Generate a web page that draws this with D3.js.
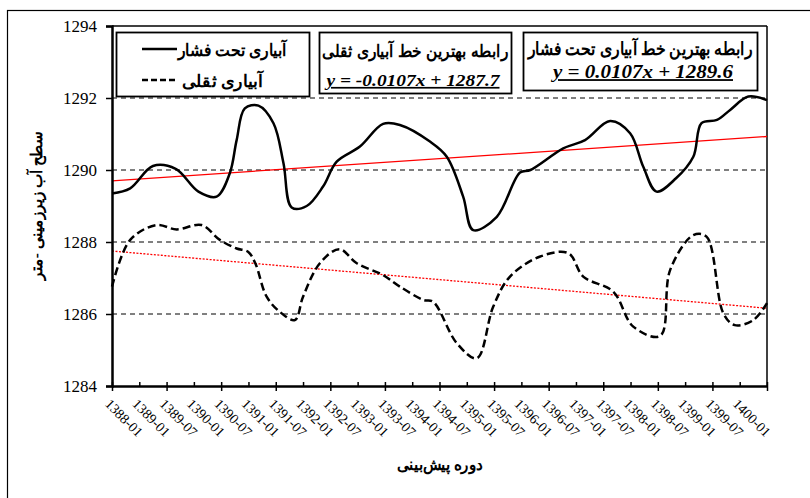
<!DOCTYPE html>
<html>
<head>
<meta charset="utf-8">
<script src="https://cdn.jsdelivr.net/npm/d3@7"></script>
<style>
html,body{margin:0;padding:0;background:#fff;}
svg{display:block;}
</style>
</head>
<body>
<svg id="chart" width="810" height="498"></svg>
<script>
// ---- data (x = month index from 1388-01, 6 months per tick) ----
const xTickLabels = ["1388-01","1389-01","1389-07","1390-01","1390-07","1391-01","1391-07","1392-01","1392-07","1393-01","1393-07","1394-01","1394-07","1395-01","1395-07","1396-01","1396-07","1397-01","1397-07","1398-01","1398-07","1399-01","1399-07","1400-01"];
const yTicks = [1284,1286,1288,1290,1292,1294];

const pressureX = [0,4,9,14,19,23,25.9,27.4,29.2,32.2,35.5,37.7,39.5,42.8,46.4,49.4,54.5,59.6,63.3,69.9,73.6,77.2,79.4,84.6,89.7,92,99.2,104,109.5,113.9,116.8,119.7,124,127.8,129.6,133,135.9,139.9,144];
const pressureY = [1289.35,1289.49,1290.11,1290.03,1289.40,1289.26,1289.91,1290.83,1291.71,1291.79,1291.30,1290.19,1288.96,1289.00,1289.54,1290.23,1290.65,1291.28,1291.25,1290.79,1290.37,1289.26,1288.33,1288.70,1289.93,1290.00,1290.60,1290.83,1291.36,1291.02,1290.09,1289.40,1289.77,1290.37,1291.30,1291.39,1291.67,1292.04,1291.94];

const gravityX = [0,4,9.8,14.2,19.7,23.7,27.4,29.9,31.5,34,36.9,40.2,42,45.7,50,53.8,59.6,63.3,68.5,70.6,75.8,80.2,83.8,87.5,94,100.3,103.6,110.2,114.6,120.5,122.7,127.8,130.7,134.4,136.9,141,144];
const gravityY = [1286.76,1288.06,1288.47,1288.35,1288.47,1288.06,1287.82,1287.73,1287.41,1286.48,1286.06,1285.83,1286.48,1287.41,1287.80,1287.41,1287.08,1286.76,1286.39,1286.34,1285.19,1284.77,1286.20,1287.04,1287.59,1287.69,1287.04,1286.62,1285.65,1285.39,1287.22,1288.19,1288.15,1286.02,1285.69,1285.83,1286.30];

const trendX = [0,144];
const pressureTrend = [1289.70,1290.93];
const gravityTrend = [1287.75,1286.16];

const legendLabels = ["آبیاری تحت فشار","آبیاری ثقلی"];
const eqGravityTitle = "رابطه بهترین خط آبیاری ثقلی";
const eqGravity = "y = -0.0107x + 1287.7";
const eqPressureTitle = "رابطه بهترین خط آبیاری تحت فشار";
const eqPressure = "y = 0.0107x + 1289.6";
const yTitle = "سطح آب زیرزمینی -متر";
const xTitle = "دوره پیش‌بینی";

// ---- layout ----
const svg = d3.select("#chart");
const L = 112, R = 767, T = 26, B = 386;
const SERIF = '"Liberation Serif"';
const ARAB = 'serif';

const x = d3.scaleLinear().domain([0,144]).range([L,R]);
const y = d3.scaleLinear().domain([1284,1294]).range([B,T]);

// outer frame
svg.append("rect").attr("x",7.5).attr("y",10.5).attr("width",812).attr("height",500)
  .attr("fill","none").attr("stroke","#000").attr("stroke-width",1.2);

// gridlines
svg.append("g").selectAll("line").data(yTicks.filter(v=>v>1284 && v<1294)).join("line")
  .attr("x1",L).attr("x2",R).attr("y1",d=>y(d)).attr("y2",d=>y(d))
  .attr("stroke","#000").attr("stroke-width",1).attr("stroke-dasharray","5,4");

// plot frame top/right
svg.append("line").attr("x1",L).attr("x2",R).attr("y1",T).attr("y2",T).attr("stroke","#000").attr("stroke-width",1.5);
svg.append("line").attr("x1",R).attr("x2",R).attr("y1",T).attr("y2",B).attr("stroke","#000").attr("stroke-width",1.5);

// trend lines
const tl = d3.line().x((d,i)=>x(trendX[i])).y(d=>y(d));
svg.append("path").attr("d",tl(pressureTrend)).attr("fill","none").attr("stroke","#ff0000").attr("stroke-width",1.3);
svg.append("path").attr("d",tl(gravityTrend)).attr("fill","none").attr("stroke","#ff0000").attr("stroke-width",1.3).attr("stroke-dasharray","2,1.5");

// series
const line = d3.line().curve(d3.curveCatmullRom.alpha(0.5));
svg.append("path").attr("d",line(pressureX.map((v,i)=>[x(v),y(pressureY[i])])))
  .attr("fill","none").attr("stroke","#000").attr("stroke-width",2.5);
svg.append("path").attr("d",line(gravityX.map((v,i)=>[x(v),y(gravityY[i])])))
  .attr("fill","none").attr("stroke","#000").attr("stroke-width",2.5).attr("stroke-dasharray","8,4");

// y axis
const yAxis = svg.append("g").attr("transform",`translate(${L},0)`)
  .call(d3.axisLeft(y).tickValues(yTicks).tickSize(6).tickPadding(9).tickFormat(d3.format("d")));
yAxis.attr("font-family",null).attr("font-size",null);
yAxis.select(".domain").attr("stroke-width",2.5);
yAxis.selectAll(".tick line").attr("stroke-width",1.5);
yAxis.selectAll("text").style("font-family",SERIF).style("font-size","17px").attr("fill","#000");

// x axis
const tickVals = d3.range(0,145,6);
const xAxis = svg.append("g").attr("transform",`translate(0,${B})`)
  .call(d3.axisBottom(x).tickValues(tickVals).tickSize(0).tickFormat(""));
xAxis.select(".domain").attr("stroke-width",2.5);
xAxis.selectAll(".tick line")
  .attr("y1",-4)
  .attr("y2",(d,i)=> i%2===0 ? 5 : 0)
  .attr("stroke-width",1.5);
svg.append("g").selectAll("text").data(xTickLabels).join("text")
  .attr("transform",(d,i)=>`translate(${x(tickVals[i])-1},${B+12}) rotate(45)`)
  .attr("dominant-baseline","hanging")
  .style("font-family",SERIF).style("font-size","14px").attr("fill","#000")
  .text(d=>d);

// helper for Arabic text fitted to measured width
function arabText(tx, ty, str, size, len, rot){
  const t = svg.append("text")
    .attr("text-anchor","middle").attr("dominant-baseline","middle")
    .style("font-family",ARAB).style("font-weight","bold").style("font-size",size+"px")
    .attr("textLength",len).attr("lengthAdjust","spacingAndGlyphs")
    .text(str);
  if(rot) t.attr("transform",`translate(${tx},${ty}) rotate(${rot})`);
  else t.attr("x",tx).attr("y",ty);
  return t;
}

// axis titles
arabText(38, 206, yTitle, 16, 148, -90);
arabText(440, 466, xTitle, 16, 86);

// legend boxes
const boxes = [
  {x:116,y:32,w:193,h:64},
  {x:319,y:32,w:192,h:61},
  {x:523,y:32,w:234,h:58}
];
svg.append("g").selectAll("rect").data(boxes).join("rect")
  .attr("x",d=>d.x+0.5).attr("y",d=>d.y+0.5).attr("width",d=>d.w).attr("height",d=>d.h)
  .attr("fill","#fff").attr("stroke","#000").attr("stroke-width",1.8);

// legend entries
svg.append("line").attr("x1",142).attr("x2",177).attr("y1",49).attr("y2",49).attr("stroke","#000").attr("stroke-width",2.5);
svg.append("line").attr("x1",142).attr("x2",177).attr("y1",80).attr("y2",80).attr("stroke","#000").attr("stroke-width",2.5).attr("stroke-dasharray","6,3");
arabText(232.5, 52, legendLabels[0], 17, 109);
arabText(222.5, 83, legendLabels[1], 17, 81);

// equation boxes
arabText(415, 53, eqGravityTitle, 17, 186);
svg.append("text").attr("x",413).attr("y",82).attr("text-anchor","middle").attr("dominant-baseline","middle")
  .style("font-family",SERIF).style("font-size","17px").style("font-weight","bold").style("font-style","italic")
  .attr("textLength",173).attr("lengthAdjust","spacingAndGlyphs")
  .attr("text-decoration","underline").text(eqGravity);
arabText(640, 51, eqPressureTitle, 18, 225);
svg.append("text").attr("x",643).attr("y",74).attr("text-anchor","middle").attr("dominant-baseline","middle")
  .style("font-family",SERIF).style("font-size","18px").style("font-weight","bold").style("font-style","italic")
  .attr("textLength",180).attr("lengthAdjust","spacingAndGlyphs")
  .attr("text-decoration","underline").text(eqPressure);
</script>
</body>
</html>
